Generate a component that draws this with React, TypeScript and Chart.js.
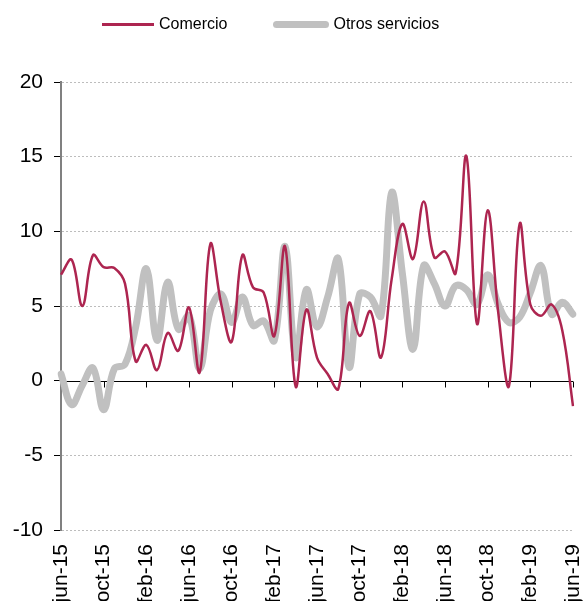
import React, { useEffect, useRef } from "react";
import { Chart, registerables } from "chart.js";

Chart.register(...registerables);

const months = [
  "jun-15", "jul-15", "ago-15", "sep-15", "oct-15", "nov-15", "dic-15",
  "ene-16", "feb-16", "mar-16", "abr-16", "may-16", "jun-16", "jul-16", "ago-16", "sep-16", "oct-16", "nov-16", "dic-16",
  "ene-17", "feb-17", "mar-17", "abr-17", "may-17", "jun-17", "jul-17", "ago-17", "sep-17", "oct-17", "nov-17", "dic-17",
  "ene-18", "feb-18", "mar-18", "abr-18", "may-18", "jun-18", "jul-18", "ago-18", "sep-18", "oct-18", "nov-18", "dic-18",
  "ene-19", "feb-19", "mar-19", "abr-19", "may-19", "jun-19",
];

const labelEvery = 4;

const comercio = [
  7.1, 8.1, 5.0, 8.4, 7.6, 7.55, 6.5, 1.3, 2.4, 0.7,
  3.2, 2.0, 4.9, 0.55, 9.15, 5.2, 2.6, 8.4, 6.25, 5.9,
  3.0, 9.0, -0.4, 4.75, 1.55, 0.45, -0.55, 5.2, 3.0, 4.65,
  1.55, 6.8, 10.5, 8.15, 12.0, 8.25, 8.65, 7.2, 15.05, 3.8,
  11.4, 4.5, -0.35, 10.5, 5.1, 4.35, 5.1, 3.35, -1.7,
];

const otrosServicios = [
  0.45, -1.6, -0.3, 0.85, -1.95, 0.8, 1.1, 3.6, 7.5, 2.7,
  6.6, 3.45, 4.35, 0.8, 4.7, 5.8, 3.9, 5.6, 3.7, 4.0,
  2.7, 9.0, 1.55, 6.1, 3.6, 5.6, 8.15, 0.9, 5.8, 5.6,
  4.35, 12.6, 7.2, 2.1, 7.7, 6.5, 5.0, 6.35, 6.1, 5.1,
  7.1, 5.1, 3.9, 4.25, 5.9, 7.7, 4.45, 5.25, 4.45,
];

const seriesNames = ["Comercio", "Otros servicios"];
const yMin = -10;
const yMax = 20;
const yStep = 5;

const RED = "#AD2550";
const GREY = "#C0C0C0";
const FONT = "'Liberation Sans', Arial, sans-serif";

const zeroLinePlugin = {
  id: "zeroLine",
  beforeDatasetsDraw(chart: any) {
    const { ctx, chartArea, scales } = chart;
    const y = Math.round(scales.y.getPixelForValue(0)) + 0.5;
    ctx.save();
    ctx.strokeStyle = "#000";
    ctx.lineWidth = 1;
    ctx.beginPath();
    ctx.moveTo(chartArea.left + 1, y);
    ctx.lineTo(chartArea.right, y);
    for (let i = 0; i < months.length; i += labelEvery) {
      const x = Math.round(scales.x.getPixelForValue(i)) + 0.5;
      ctx.moveTo(x, y);
      ctx.lineTo(x, y + 6);
    }
    ctx.stroke();
    ctx.restore();
  },
};

export default function App() {
  const ref = useRef<HTMLCanvasElement | null>(null);

  useEffect(() => {
    if (!ref.current) return;
    const chart = new Chart(ref.current, {
      type: "line",
      data: {
        labels: months,
        datasets: [
          {
            label: seriesNames[0],
            data: comercio,
            borderColor: RED,
            borderWidth: 2.5,
            pointRadius: 0,
            tension: 0.38,
            fill: false,
          },
          {
            label: seriesNames[1],
            data: otrosServicios,
            borderColor: GREY,
            borderWidth: 7,
            pointRadius: 0,
            tension: 0.38,
            fill: false,
            borderCapStyle: "round",
          },
        ],
      },
      options: {
        responsive: false,
        animation: false,
        layout: { padding: { top: 82, right: 10, bottom: 0, left: 0 } },
        plugins: {
          legend: { display: false },
          tooltip: { enabled: false },
        },
        scales: {
          x: {
            type: "category",
            offset: false,
            grid: { display: false, drawTicks: false },
            border: { display: false },
            ticks: {
              autoSkip: false,
              maxRotation: 90,
              minRotation: 90,
              padding: 14,
              color: "#000",
              font: { family: FONT, size: 21 },
              callback: (_v: any, i: number) => (i % labelEvery === 0 ? months[i] : ""),
            },
            afterFit: (s: any) => {
              s.height = 71;
              s.paddingLeft = 0;
              s.paddingRight = 0;
            },
          },
          y: {
            min: yMin,
            max: yMax,
            ticks: {
              stepSize: yStep,
              padding: 11,
              color: "#000",
              font: { family: FONT, size: 21 },
            },
            grid: {
              color: (c: any) => (c.tick && c.tick.value === 0 ? "rgba(0,0,0,0)" : "#BDBDBD"),
              lineWidth: 1,
              tickLength: 7,
              tickColor: "#000",
              tickWidth: 1,
              tickBorderDash: [],
            },
            border: { display: true, color: "#808080", width: 2, dash: [2, 2] },
            afterFit: (s: any) => {
              s.width = 61;
              s.paddingTop = 0;
              s.paddingBottom = 0;
            },
          },
        },
      },
      plugins: [zeroLinePlugin],
    } as any);
    return () => chart.destroy();
  }, []);

  const legendText: React.CSSProperties = {
    fontFamily: FONT,
    fontSize: 16,
    color: "#000",
    lineHeight: "20px",
    whiteSpace: "nowrap",
  };

  return (
    <div style={{ position: "absolute", left: 0, top: 0, width: 583, height: 601, background: "#fff" }}>
      <canvas ref={ref} width={583} height={601} style={{ display: "block" }} />
      <div
        style={{
          position: "absolute",
          left: 102,
          top: 14,
          height: 20,
          display: "flex",
          alignItems: "center",
        }}
      >
        <span style={{ display: "inline-block", width: 52, height: 3, background: RED, marginRight: 5 }} />
        <span style={legendText}>{seriesNames[0]}</span>
        <span
          style={{
            display: "inline-block",
            width: 56,
            height: 7,
            borderRadius: 3.5,
            background: GREY,
            marginLeft: 46,
            marginRight: 4,
          }}
        />
        <span style={legendText}>{seriesNames[1]}</span>
      </div>
    </div>
  );
}
